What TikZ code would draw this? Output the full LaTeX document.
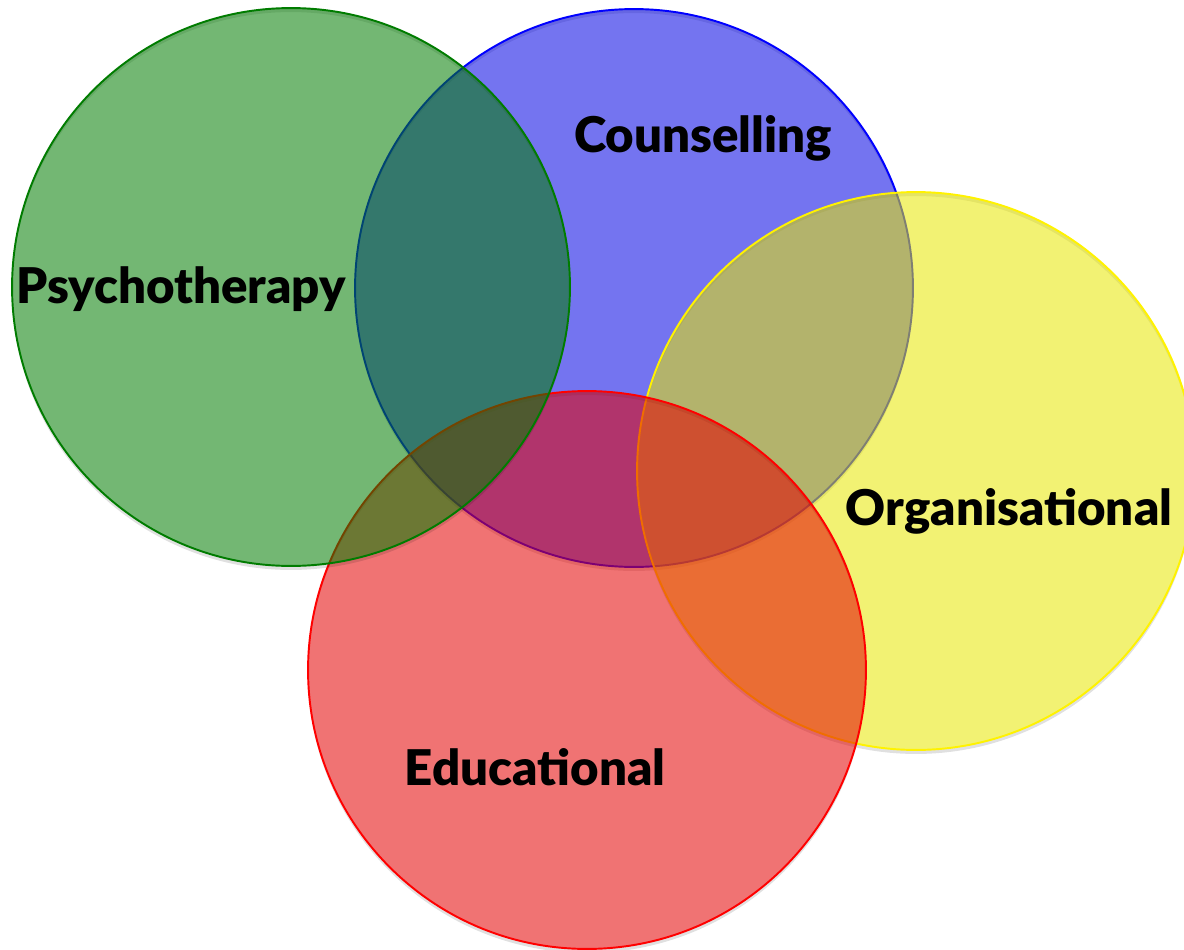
\documentclass[tikz,border=0pt]{standalone}
\usepackage{fontspec}
\setmainfont{Lato}[BoldFont={Lato Black}]

\definecolor{psygreen}{RGB}{0,124,0}
\definecolor{counsblue}{RGB}{2,2,228}
\definecolor{orgyellow}{RGB}{232,232,0}
\definecolor{edured}{RGB}{228,0,0}

\tikzset{
  venn/.style={shape=circle, minimum size=11.16cm, inner sep=0pt, line width=1.1pt,
    fill opacity=0.55, draw opacity=1},
  vennshadow/.style={fill=black, opacity=0.12, even odd rule},
  vennlabel/.style={anchor=base, font=\fontsize{28}{32}\selectfont\bfseries, text=black}
}

\begin{document}
\begin{tikzpicture}[x=0.02cm, y=-0.02cm]
      \useasboundingbox (0,0) rectangle (1184,950);
      \clip (0,0) rectangle (1184,950);
      % circles, back to front, each with its shadow rim
      \fill[vennshadow] (634,292) circle (5.58cm) (634,288) circle (5.58cm);
      \node[venn, draw=blue, fill=counsblue] (C)  at (634,288) {};
      \fill[vennshadow] (916,475) circle (5.58cm) (916,471) circle (5.58cm);
      \node[venn, draw=yellow, fill=orgyellow] (O)  at (916,471) {};
      \fill[vennshadow] (587,674) circle (5.58cm) (587,670) circle (5.58cm);
      \node[venn, draw=red, fill=edured] (E)  at (587,670) {};
      \fill[vennshadow] (291,291) circle (5.58cm) (291,287) circle (5.58cm);
      \node[venn, draw=psygreen, fill=psygreen] (P)  at (291,287) {};
      % labels
      \node[vennlabel] (Ptext) at (181,303) {Psychotherapy};
      \node[vennlabel] (Ctext) at (703,152) {Counselling};
      \node[vennlabel] (Otext) at (1009,525) {Organisational};
      \node[vennlabel] (Etext) at (535,785) {Educational};
    \end{tikzpicture}
\end{document}
